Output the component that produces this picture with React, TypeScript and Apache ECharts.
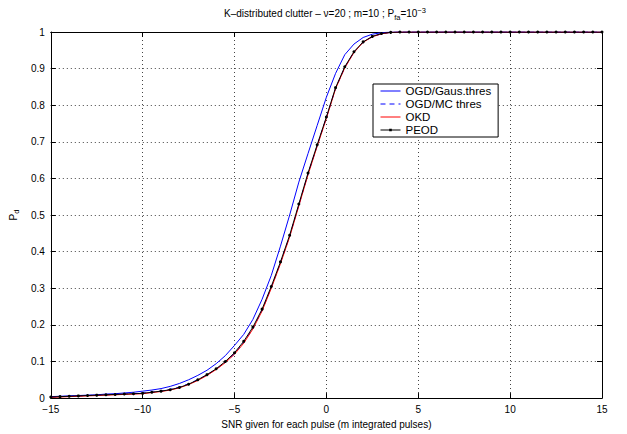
import React, { useEffect, useRef } from 'react';
import * as echarts from 'echarts';

const snrDb = [
  -15, -14.5, -14, -13.5, -13, -12.5, -12, -11.5, -11, -10.5,
  -10, -9.5, -9, -8.5, -8, -7.5, -7, -6.5, -6, -5.5,
  -5, -4.5, -4, -3.5, -3, -2.5, -2, -1.5, -1, -0.5,
  0, 0.5, 1, 1.5, 2, 2.5, 3, 3.5, 4, 4.5,
  5, 5.5, 6, 6.5, 7, 7.5, 8, 8.5, 9, 9.5,
  10, 10.5, 11, 11.5, 12, 12.5, 13, 13.5, 14, 14.5, 15,
];

const ogdGaus = [
  0.004, 0.005, 0.006, 0.007, 0.008, 0.009, 0.011, 0.012, 0.014, 0.016,
  0.019, 0.022, 0.026, 0.032, 0.040, 0.050, 0.062, 0.076, 0.094, 0.116,
  0.144, 0.174, 0.215, 0.270, 0.335, 0.415, 0.500, 0.590, 0.668, 0.745,
  0.822, 0.887, 0.938, 0.967, 0.985, 0.994, 0.998, 1, 1, 1,
  1, 1, 1, 1, 1, 1, 1, 1, 1, 1,
  1, 1, 1, 1, 1, 1, 1, 1, 1, 1, 1,
];

const ogdMc = [
  0.003, 0.004, 0.005, 0.006, 0.007, 0.008, 0.009, 0.010, 0.011, 0.012,
  0.014, 0.016, 0.019, 0.024, 0.030, 0.039, 0.050, 0.063, 0.079, 0.098,
  0.121, 0.152, 0.190, 0.240, 0.302, 0.370, 0.442, 0.527, 0.612, 0.690,
  0.766, 0.846, 0.903, 0.945, 0.972, 0.987, 0.995, 0.999, 1, 1,
  1, 1, 1, 1, 1, 1, 1, 1, 1, 1,
  1, 1, 1, 1, 1, 1, 1, 1, 1, 1, 1,
];

const okd = [
  0.002, 0.003, 0.004, 0.005, 0.006, 0.007, 0.008, 0.009, 0.010, 0.011,
  0.012, 0.015, 0.018, 0.022, 0.028, 0.037, 0.048, 0.062, 0.078, 0.097,
  0.120, 0.150, 0.189, 0.238, 0.300, 0.367, 0.440, 0.525, 0.610, 0.688,
  0.764, 0.845, 0.902, 0.944, 0.972, 0.987, 0.995, 0.999, 1, 1,
  1, 1, 1, 1, 1, 1, 1, 1, 1, 1,
  1, 1, 1, 1, 1, 1, 1, 1, 1, 1, 1,
];

const peod = [
  0.003, 0.004, 0.005, 0.006, 0.007, 0.008, 0.009, 0.010, 0.011, 0.012,
  0.013, 0.016, 0.019, 0.023, 0.029, 0.038, 0.050, 0.064, 0.080, 0.100,
  0.124, 0.155, 0.194, 0.243, 0.305, 0.372, 0.445, 0.530, 0.615, 0.692,
  0.768, 0.848, 0.905, 0.946, 0.973, 0.988, 0.996, 0.999, 1, 1,
  1, 1, 1, 1, 1, 1, 1, 1, 1, 1,
  1, 1, 1, 1, 1, 1, 1, 1, 1, 1, 1,
];

const seriesNames = ['OGD/Gaus.thres', 'OGD/MC thres', 'OKD', 'PEOD'];

const FONT = '"Liberation Sans", Arial, Helvetica, sans-serif';

const PEOD_ICON =
  'path://M0,0 M20,10 M0,4.6 L20,4.6 L20,5.4 L0,5.4 Z M8.7,3.7 L11.3,3.7 L11.3,6.3 L8.7,6.3 Z';

export default function App() {
  const ref = useRef<HTMLDivElement>(null);

  useEffect(() => {
    document.body.style.margin = '0';
    const chart = echarts.init(ref.current!, null, { renderer: 'svg' });
    const pair = (ys: number[]) => snrDb.map((x, i) => [x, ys[i]]);
    const minus = (v: number) => String(v).replace('-', '\u2212');

    const gridLine = { show: true, lineStyle: { type: [1, 3], color: '#444', width: 1 } };

    chart.setOption({
      animation: false,
      backgroundColor: '#fff',
      textStyle: { fontFamily: FONT },
      grid: { left: 48, right: 25, top: 32, bottom: 31, containLabel: false },
      graphic: [
        {
          type: 'text',
          x: 325,
          y: 6,
          style: {
            text: '{n|K\u2013distributed clutter \u2013 \u03bd=20 ; m=10 ; P}{sub|fa}{n|=10}{sup|\u22123}',
            textAlign: 'center',
            fill: '#000',
            rich: {
              n: { fontSize: 10, fontFamily: FONT, fill: '#000' },
              sub: { fontSize: 7.5, fontFamily: FONT, fill: '#000', padding: [7, 0, 0, 0] },
              sup: { fontSize: 7.5, fontFamily: FONT, fill: '#000', padding: [0, 0, 6, 0] },
            },
          },
        },
      ],
      legend: {
        data: [
          { name: seriesNames[0], itemStyle: { opacity: 0 } },
          { name: seriesNames[1], itemStyle: { opacity: 0 } },
          { name: seriesNames[2], itemStyle: { opacity: 0 } },
          { name: seriesNames[3], icon: PEOD_ICON },
        ],
        orient: 'vertical',
        left: 373,
        top: 84,
        backgroundColor: '#fff',
        borderColor: '#000',
        borderWidth: 1,
        borderRadius: 0,
        padding: [1, 7, 1, 7],
        itemWidth: 20,
        itemHeight: 10,
        itemGap: 1,
        lineStyle: { width: 1 },
        textStyle: { fontSize: 11.5, lineHeight: 11.5, color: '#000', fontFamily: FONT },
      },
      xAxis: [
        {
          type: 'value',
          min: -15,
          max: 15,
          interval: 5,
          position: 'bottom',
          name: 'SNR given for each pulse (m integrated pulses)',
          nameLocation: 'middle',
          nameGap: 16,
          nameTextStyle: { fontSize: 10, color: '#000', fontFamily: FONT },
          axisLine: { show: true, onZero: false, lineStyle: { color: '#000', width: 1 } },
          axisTick: { show: true, inside: true, length: 5, lineStyle: { color: '#000' } },
          axisLabel: { fontSize: 10, color: '#000', margin: 6, formatter: minus, fontFamily: FONT },
          splitLine: gridLine,
        },
        {
          type: 'value',
          min: -15,
          max: 15,
          interval: 5,
          position: 'top',
          axisLine: { show: true, onZero: false, lineStyle: { color: '#000', width: 1 } },
          axisTick: { show: true, inside: true, length: 5, lineStyle: { color: '#000' } },
          axisLabel: { show: false },
          splitLine: { show: false },
        },
      ],
      yAxis: [
        {
          type: 'value',
          min: 0,
          max: 1,
          interval: 0.1,
          position: 'left',
          name: '{p|P}{d|d}',
          nameLocation: 'middle',
          nameGap: 28,
          nameTextStyle: {
            rich: {
              p: { fontSize: 10, color: '#000', fontFamily: FONT },
              d: { fontSize: 7.5, color: '#000', fontFamily: FONT, padding: [6, 0, 0, 0] },
            },
          },
          axisLine: { show: true, onZero: false, lineStyle: { color: '#000', width: 1 } },
          axisTick: { show: true, inside: true, length: 5, lineStyle: { color: '#000' } },
          axisLabel: { fontSize: 10, color: '#000', margin: 6, fontFamily: FONT },
          splitLine: gridLine,
        },
        {
          type: 'value',
          min: 0,
          max: 1,
          interval: 0.1,
          position: 'right',
          axisLine: { show: true, onZero: false, lineStyle: { color: '#000', width: 1 } },
          axisTick: { show: true, inside: true, length: 5, lineStyle: { color: '#000' } },
          axisLabel: { show: false },
          splitLine: { show: false },
        },
      ],
      series: [
        {
          name: seriesNames[0],
          type: 'line',
          data: pair(ogdGaus),
          symbol: 'none',
          lineStyle: { color: '#0000ff', width: 1 },
          itemStyle: { color: '#0000ff' },
        },
        {
          name: seriesNames[1],
          type: 'line',
          data: pair(ogdMc),
          symbol: 'none',
          lineStyle: { color: '#0000ff', width: 1, type: [5, 4] },
          itemStyle: { color: '#0000ff' },
        },
        {
          name: seriesNames[2],
          type: 'line',
          data: pair(okd),
          symbol: 'none',
          lineStyle: { color: '#ff0000', width: 1 },
          itemStyle: { color: '#ff0000' },
        },
        {
          name: seriesNames[3],
          type: 'line',
          data: pair(peod),
          symbol: 'circle',
          symbolSize: 3,
          showSymbol: true,
          lineStyle: { color: '#000', width: 1 },
          itemStyle: { color: '#000' },
        },
      ],
    });
    return () => chart.dispose();
  }, []);

  return <div ref={ref} style={{ width: 627, height: 434 }} />;
}
